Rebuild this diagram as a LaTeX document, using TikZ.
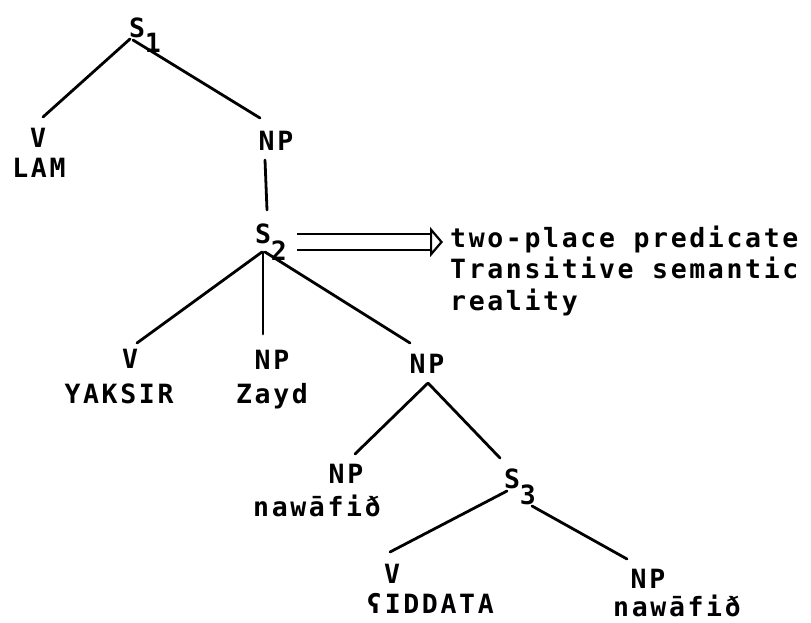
\documentclass[tikz,border=0pt]{standalone}
\usepackage{fontspec}
\setmainfont{DejaVu Sans Mono}[LetterSpace=10, UprightFont=* Bold]
\usetikzlibrary{arrows.meta}
\tikzset{
  lbl/.style={inner sep=0pt, anchor=base, font=\fontsize{26.5}{31.5}\selectfont},
  edge/.style={line width=2.8pt, line cap=round},
  dbl/.style={line width=2.2pt, double, double distance=14pt,
    -{Triangle[open, length=13pt, width=30pt, line width=2.2pt]}}
}
\begin{document}
\begin{tikzpicture}[x=1pt, y=-1pt]
\useasboundingbox (0,0) rectangle (811,622);
% labels
\node[lbl] (s1) at (137,37) {S\rlap{\raisebox{-15pt}{1}}};
\node[lbl] (v1) at (38,147) {V};
\node[lbl] (lam) at (39,177) {LAM};
\node[lbl] (np1) at (276,150) {NP};
\node[lbl] (s2) at (263,243) {S\rlap{\raisebox{-17pt}{2}}};
\node[lbl, anchor=base west, align=left] (pred) at (450,310)
  {two-place predicate\\Transitive semantic\\reality};
\node[lbl] (v2) at (130,368) {V};
\node[lbl] (yak) at (119,403) {YAKSIR};
\node[lbl] (np2) at (272,369) {NP};
\node[lbl] (zayd) at (272,403) {Zayd};
\node[lbl] (np3) at (427,373) {NP};
\node[lbl] (np4) at (346,483) {NP};
\node[lbl] (naw1) at (317,516) {nawāfið};
\node[lbl] (s3) at (512,488) {S\rlap{\raisebox{-16pt}{3}}};
\node[lbl] (v3) at (392,583) {V};
\node[lbl] (sid) at (430,613) {ʕIDDATA};
\node[lbl] (np5) at (648,588) {NP};
\node[lbl] (naw2) at (677,616) {nawāfið};
% edges
\draw[edge] ([shift={(-7,2)}]s1.base) -- ([shift={(5,-30)}]v1.base);
\draw[edge] ([shift={(-4,3)}]s1.base) -- ([shift={(-16,-32)}]np1.base);
\draw[edge] ([shift={(-11,10)}]np1.base) -- ([shift={(4,-33)}]s2.base);
\draw[edge] ([shift={(-1,9)}]s2.base) -- ([shift={(7,-25)}]v2.base);
\draw[edge] ([shift={(0,9)}]s2.base) -- ([shift={(-9,-35)}]np2.base);
\draw[edge] ([shift={(2,9)}]s2.base) -- ([shift={(-17,-30)}]np3.base);
\draw[edge] ([shift={(1,10)}]np3.base) -- ([shift={(9,-29)}]np4.base);
\draw[edge] ([shift={(1,10)}]np3.base) -- ([shift={(-12,-30)}]s3.base);
\draw[edge] ([shift={(-5,3)}]s3.base) -- ([shift={(-2,-31)}]v3.base);
\draw[edge] ([shift={(20,18)}]s3.base) -- ([shift={(-21,-29)}]np5.base);
% arrow
\draw[dbl] ([shift={(34,-1)}]s2.base) -- ([shift={(-7,-68)}]pred.base west);
\end{tikzpicture}
\end{document}
